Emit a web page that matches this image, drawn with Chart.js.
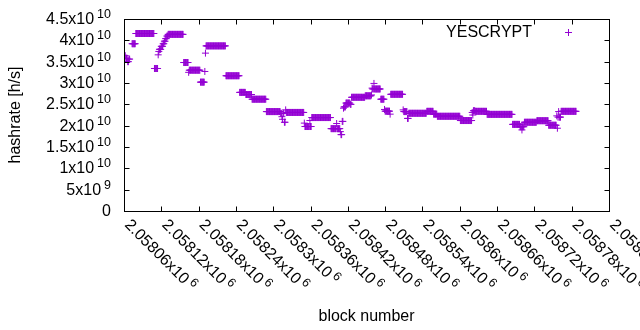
<!DOCTYPE html>
<html>
<head>
<meta charset="utf-8">
<script src="https://cdn.jsdelivr.net/npm/chart.js@4/dist/chart.umd.min.js"></script>
<style>
    html, body { margin: 0; padding: 0; background: #fff; }
    #wrap { width: 640px; height: 330px; }
</style>
</head>
<body>
<div id="wrap"><canvas id="chart"></canvas></div>
<script>
// hashrate runs: blocks runStart[i]..runEnd[i] share the estimate runRate[i] (x 1e10 h/s)
const runStart = [
    2058062, 2058063, 2058066, 2058068, 2058073, 2058079, 2058109, 2058115, 2058116, 2058117,
    2058120, 2058123, 2058125, 2058127, 2058129, 2058131, 2058156, 2058164, 2058165, 2058183,
    2058190, 2058191, 2058192, 2058224, 2058246, 2058256, 2058266, 2058289, 2058312, 2058314,
    2058315, 2058316, 2058318, 2058320, 2058321, 2058350, 2058351, 2058359, 2058360, 2058362,
    2058393, 2058402, 2058403, 2058408, 2058409, 2058411, 2058413, 2058414, 2058417, 2058424,
    2058426, 2058448, 2058458, 2058459, 2058460, 2058462, 2058463, 2058473, 2058479, 2058480,
    2058488, 2058489, 2058509, 2058510, 2058516, 2058518, 2058547, 2058558, 2058564, 2058601,
    2058620, 2058621, 2058622, 2058625, 2058644, 2058685, 2058697, 2058700, 2058701, 2058704,
    2058724, 2058743, 2058756, 2058757, 2058758, 2058759, 2058760, 2058763
];
const runEnd = [
    2058062, 2058065, 2058067, 2058069, 2058078, 2058108, 2058114, 2058115, 2058116, 2058119,
    2058122, 2058124, 2058126, 2058128, 2058130, 2058155, 2058163, 2058164, 2058182, 2058189,
    2058190, 2058191, 2058223, 2058245, 2058255, 2058265, 2058288, 2058311, 2058313, 2058314,
    2058315, 2058317, 2058319, 2058320, 2058349, 2058350, 2058358, 2058359, 2058361, 2058392,
    2058401, 2058402, 2058407, 2058408, 2058410, 2058412, 2058413, 2058416, 2058423, 2058425,
    2058447, 2058457, 2058458, 2058459, 2058461, 2058462, 2058472, 2058478, 2058479, 2058487,
    2058488, 2058508, 2058509, 2058515, 2058517, 2058546, 2058557, 2058563, 2058600, 2058619,
    2058620, 2058621, 2058624, 2058643, 2058684, 2058696, 2058699, 2058700, 2058703, 2058723,
    2058742, 2058755, 2058756, 2058757, 2058758, 2058759, 2058762, 2058787
];
const runRate = [
    3.64, 3.58, 3.50, 3.56, 3.92, 4.16, 3.34, 3.66, 3.74, 3.79,
    3.86, 3.92, 3.98, 4.04, 4.10, 4.14, 3.48, 3.25, 3.30, 3.02,
    3.27, 3.70, 3.87, 3.17, 2.78, 2.73, 2.62, 2.33, 2.29, 2.21,
    2.15, 2.29, 2.08, 2.37, 2.31, 2.06, 1.98, 2.12, 1.98, 2.19,
    1.93, 2.05, 1.93, 1.86, 1.79, 2.10, 2.41, 2.44, 2.53, 2.50,
    2.665, 2.70, 2.72, 2.88, 2.86, 2.99, 2.86, 2.62, 2.38, 2.34,
    2.27, 2.735, 2.37, 2.33, 2.17, 2.29, 2.336, 2.27, 2.22, 2.12,
    2.31, 2.25, 2.35, 2.336, 2.265, 2.03, 1.975, 1.90, 1.975, 2.08,
    2.116, 2.01, 2.23, 1.94, 2.20, 2.33, 2.20, 2.336
];

const xTicks = [2058060, 2058120, 2058180, 2058240, 2058300, 2058360, 2058420,
                2058480, 2058540, 2058600, 2058660, 2058720, 2058780, 2058840];
const xTickText = ["2.05806x10", "2.05812x10", "2.05818x10", "2.05824x10", "2.0583x10",
                   "2.05836x10", "2.05842x10", "2.05848x10", "2.05854x10", "2.0586x10",
                   "2.05866x10", "2.05872x10", "2.05878x10", "2.05884x10"];
const xTickExp = "6";

const yTicks = [0, 5e9, 1e10, 1.5e10, 2e10, 2.5e10, 3e10, 3.5e10, 4e10, 4.5e10];
const yTickText = ["0", "5x10", "1x10", "1.5x10", "2x10", "2.5x10", "3x10", "3.5x10", "4x10", "4.5x10"];
const yTickExp = ["", "9", "10", "10", "10", "10", "10", "10", "10", "10"];

const seriesName = "YESCRYPT";
const PURPLE = "#9400d3";
const FONT = "'Liberation Sans', Arial, sans-serif";

const points = [];
runStart.forEach((s, i) => {
    for (let b = s; b <= runEnd[i]; b++) points.push({ x: b, y: runRate[i] * 1e10 });
});

function drawCross(ctx, x, y, r) {
    ctx.beginPath();
    ctx.moveTo(x - r, y); ctx.lineTo(x + r, y);
    ctx.moveTo(x, y - r); ctx.lineTo(x, y + r);
    ctx.stroke();
}

// gnuplot style frame: border, inward mirrored tics, superscript tick labels, key
const gnuplotFrame = {
    id: "gnuplotFrame",
    afterDraw(chart) {
        const { ctx, chartArea: a, scales: { x, y } } = chart;
        const L = Math.round(a.left) + 0.5, R = Math.round(a.right) + 0.5;
        const T = Math.round(a.top) + 0.5, B = Math.round(a.bottom) + 0.5;
        ctx.save();
        ctx.strokeStyle = "#000";
        ctx.lineWidth = 1;
        ctx.strokeRect(L, T, R - L, B - T);

        ctx.beginPath();
        yTicks.forEach(v => {
            const py = Math.round(y.getPixelForValue(v)) + 0.5;
            ctx.moveTo(L, py); ctx.lineTo(L + 5, py);
            ctx.moveTo(R, py); ctx.lineTo(R - 5, py);
        });
        xTicks.forEach(v => {
            const px = Math.round(x.getPixelForValue(v)) + 0.5;
            ctx.moveTo(px, B); ctx.lineTo(px, B - 5);
            ctx.moveTo(px, T); ctx.lineTo(px, T + 5);
        });
        ctx.stroke();

        ctx.fillStyle = "#000";
        ctx.textBaseline = "middle";

        // y labels
        yTicks.forEach((v, i) => {
            const py = y.getPixelForValue(v);
            let right = 111;
            ctx.textAlign = "right";
            if (yTickExp[i]) {
                ctx.font = "12.5px " + FONT;
                ctx.fillText(yTickExp[i], right, py - 4.5);
                right -= ctx.measureText(yTickExp[i]).width + 3;
            }
            ctx.font = "16px " + FONT;
            ctx.fillText(yTickText[i], right, py + 0.5);
        });

        // x labels, rotated down-right from each tic
        xTicks.forEach((v, i) => {
            const px = x.getPixelForValue(v);
            ctx.save();
            ctx.translate(px + 3, B + 11);
            ctx.rotate(Math.PI / 4);
            ctx.textAlign = "left";
            ctx.font = "16px " + FONT;
            ctx.fillText(xTickText[i], 0, 0);
            const w = ctx.measureText(xTickText[i]).width;
            ctx.font = "12.5px " + FONT;
            ctx.fillText(xTickExp, w + 3, -4.5);
            ctx.restore();
        });

        // key
        ctx.font = "16px " + FONT;
        ctx.textAlign = "right";
        ctx.fillText(seriesName, 532, 32.5);
        ctx.strokeStyle = PURPLE;
        drawCross(ctx, 568.5, 32.5, 3.5);
        ctx.restore();
    }
};

Chart.defaults.font.family = FONT;
Chart.defaults.font.size = 16;
Chart.defaults.color = "#000";

new Chart(document.getElementById("chart"), {
    type: "scatter",
    data: {
        datasets: [{
            label: seriesName,
            data: points,
            pointStyle: "cross",
            pointRadius: 3.5,
            pointBorderWidth: 1,
            borderColor: PURPLE,
            backgroundColor: PURPLE
        }]
    },
    options: {
        responsive: true,
        maintainAspectRatio: false,
        animation: false,
        events: [],
        layout: { padding: { top: 19, right: 31, left: 0, bottom: 0 } },
        scales: {
            x: {
                type: "linear",
                min: 2058060,
                max: 2058840,
                grid: { display: false },
                border: { display: false },
                ticks: { display: false },
                title: { display: true, text: "block number", padding: { top: 4, bottom: 4 } },
                afterFit: s => { s.height = 119; }
            },
            y: {
                min: 0,
                max: 4.5e10,
                grid: { display: false },
                border: { display: false },
                ticks: { display: false },
                title: { display: true, text: "hashrate [h/s]", padding: { top: 6, bottom: 0 } },
                afterFit: s => { s.width = 124; }
            }
        },
        plugins: {
            legend: { display: false },
            tooltip: { enabled: false }
        }
    },
    plugins: [gnuplotFrame]
});
</script>
</body>
</html>
